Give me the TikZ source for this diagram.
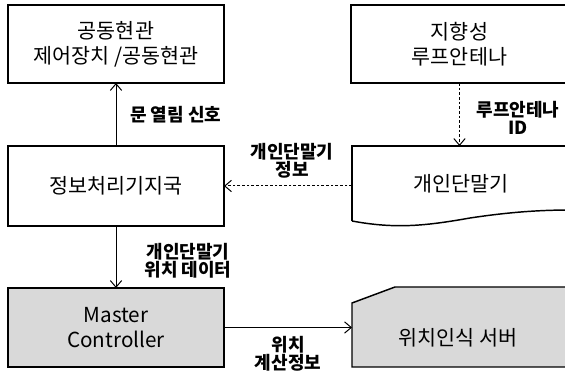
\documentclass[tikz,border=0pt]{standalone}
\usepackage{fontspec}
\setmainfont{Noto Sans CJK KR}
\usetikzlibrary{arrows.meta}
\definecolor{boxgray}{HTML}{D9D9D9}
\begin{document}
\begin{tikzpicture}[x=0.75pt,y=-0.75pt,
  boxtext/.style={font=\fontsize{15.5}{18.75}\selectfont,align=center,inner sep=0pt,outer sep=0pt},
  box/.style={boxtext,draw=black,line width=1.1pt,minimum width=162pt},
  ghost/.style={boxtext,draw=none,minimum width=163.5pt},
  lbl/.style={font=\bfseries\fontsize{13.5}{13.2}\selectfont,align=center,inner sep=0pt},
  arr/.style={line width=0.75pt,-{Straight Barb[length=5pt,width=8.5pt]}},
  dsh/.style={dash pattern=on 2pt off 1.5pt}]
\useasboundingbox (0,0) rectangle (565,373);
% shapes drawn before their text nodes
\draw[line width=1.1pt] (352,221) -- (352,146) -- (572,146);
\draw[line width=1.1pt] (352,221) .. controls (395,229) and (425,226) .. (470,218)
   .. controls (510,212) and (540,210) .. (572,210);
\filldraw[line width=1.1pt,fill=boxgray] (352,303) -- (395,287) -- (572,287) -- (572,367) -- (352,367) -- cycle;
% nodes
\node[box,minimum height=58.5pt] (b1) at (116,44) {공동현관\\제어장치 /공동현관};
\node[box,minimum width=162.75pt,minimum height=58.5pt] (b2) at (459.5,44) {지향성\\루프안테나};
\node[box,minimum height=60pt] (b3) at (116,186) {정보처리기지국};
\node[ghost,minimum height=56.25pt] (b4) at (461,183.5) {개인단말기};
\node[box,fill=boxgray,minimum height=59.25pt] (b5) at (116,327.5) {Master\\Controller};
\node[ghost,minimum height=60pt] (b6) at (461,327) {};
\node[boxtext] (b6t) at (458,338) {위치인식 서버};
% connectors
\draw[arr] (b3.north) -- (b1.south);
\draw[arr,dsh] (b2.south) -- (b2.south |- b4.north);
\draw[arr,dsh] (b4.west |- b3.east) -- (b3.east);
\draw[arr] (b3.south) -- (b5.north);
\draw[arr] (b5.east) -- (b5.east -| b6.west);
% labels
\node[lbl,anchor=west] (l1) at (130,115) {문 열림 신호};
\node[lbl] (l2) at (518,118) {루프안테나\\ID};
\node[lbl] (l3) at (292,161) {개인단말기\\정보};
\node[lbl] (l4) at (188,261) {개인단말기\\위치 데이터};
\node[lbl] (l5) at (288,354) {위치\\계산정보};
\end{tikzpicture}
\end{document}
